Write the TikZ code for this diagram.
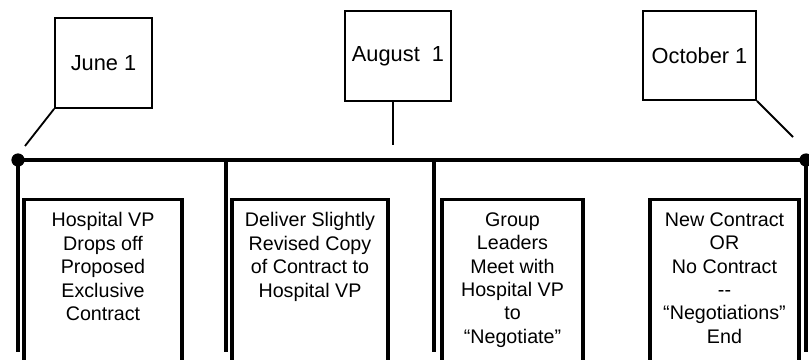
\documentclass[tikz,border=0pt]{standalone}
\usepackage{fontspec}
\setmainfont{Liberation Sans}
\usetikzlibrary{positioning}
\definecolor{TLink}{HTML}{000000}
\tikzset{
  datebox/.style={
    rectangle, draw=TLink, line width=1.3pt, fill=white, text=TLink,
    align=center, inner sep=0pt, font=\fontsize{15.5}{18}\selectfont},
  evbox/.style={
    rectangle, draw=TLink, line width=2.4pt, anchor=north, inner sep=0pt,
    minimum height=5.05cm},
  evtext/.style={
    align=center, inner sep=0pt, anchor=north, text=TLink,
    font=\fontsize{14}{16.7}\selectfont},
  tldot/.style={circle, fill=TLink, inner sep=0pt, minimum size=0.33cm},
  tlmain/.style={draw=TLink, line width=3.5pt},
  tltick/.style={draw=TLink, line width=2.6pt},
  tlleader/.style={draw=TLink, line width=1.3pt},
}

\begin{document}
\begin{tikzpicture}[x=0.025cm, y=-0.025cm]
  \clip (0,0) rectangle (809,360);
  \fill[white] (0,0) rectangle (809,360);
  %% Date boxes
  \node[datebox, minimum width=2.425cm, minimum height=2.25cm] (jun) at (103.5,63) {June 1};
  \node[datebox, minimum width=2.65cm, minimum height=2.25cm] (aug) at (398,56) {August \ 1};
  \node[datebox, minimum width=2.825cm, minimum height=2.225cm] (oct) at (699.5,55.5) {October 1};
  %% Timeline
  \node[tldot] (start) at (18,160) {};
  \node[tldot] (end) at (806,160) {};
  \draw[tlmain] (start.center) -- (end.center);
  \coordinate (junend) at (25,146);
  \coordinate (augend) at (393,145);
  \coordinate (octend) at (793,137);
  \draw[tlleader] (jun.south west) -- (junend);
  \draw[tlleader] (augend |- aug.south) -- (augend);
  \draw[tlleader] (oct.south east) -- (octend);
  %% Dividers
  \foreach \x/\n in {18/a, 226/b, 434/c, 806/d} {
    \coordinate (top\n) at (\x,160);
    \coordinate (bot\n) at (\x,352);
    \draw[tltick] (top\n) -- (bot\n);
  }
  %% Events
  \node[evbox, minimum width=3.95cm] (ev1) at (103,198) {};
  \node[evbox, minimum width=3.9cm] (ev2) at (310,198) {};
  \node[evbox, minimum width=3.525cm] (ev3) at (512.5,198) {};
  \node[evbox, minimum width=3.725cm] (ev4) at (724.5,198) {};
  \node[evtext, below=0.35cm of ev1.north] (t1)
        {Hospital VP\\Drops off\\Proposed\\Exclusive\\Contract};
  \node[evtext, below=0.35cm of ev2.north] (t2)
        {Deliver Slightly\\Revised Copy\\of Contract to\\Hospital VP};
  \node[evtext, below=0.35cm of ev3.north] (t3)
        {Group\\Leaders\\Meet with\\Hospital VP\\to\\“Negotiate”};
  \node[evtext, below=0.35cm of ev4.north] (t4)
        {New Contract\\OR\\No Contract\\{-}{-}\\“Negotiations”\\End};
\end{tikzpicture}
\end{document}
